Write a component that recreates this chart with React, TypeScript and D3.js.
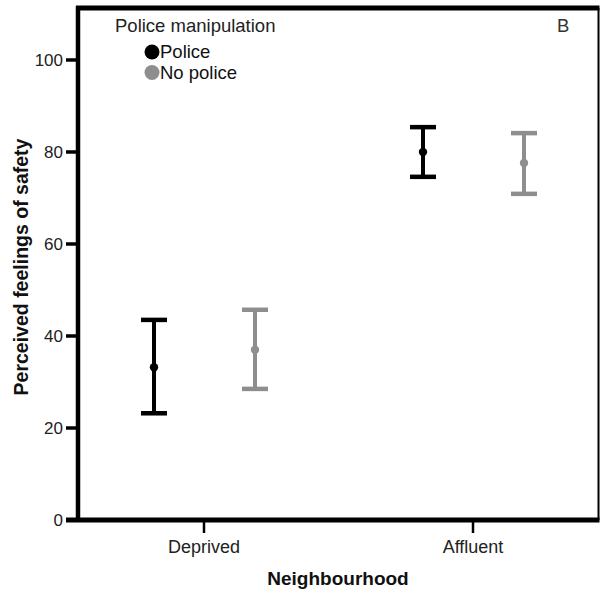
import React from 'react';
import * as d3 from 'd3';

type Point = { hood: string, group: string, mean: number, lo: number, hi: number };

const categories = ["Deprived", "Affluent"];
const groups = ["Police", "No police"];
const means = [[33.2, 37.0], [80.0, 77.6]];
const lows = [[23.2, 28.5], [74.6, 70.9]];
const highs = [[43.5, 45.7], [85.4, 84.1]];
const yTickValues = [0, 20, 40, 60, 80, 100];

const colors = ["#000000", "#8e8e8e"];

const width = 601;
const height = 599;
const marginLeft = 78;
const marginTop = 8;
const marginRight = 2.5;
const marginBottom = 79;
const boundedWidth = width - marginLeft - marginRight;
const boundedHeight = height - marginTop - marginBottom;
const font = "'Liberation Sans', Arial, sans-serif";

const data: Point[] = categories.flatMap((hood, i) => groups.map((group, j) => ({
  hood, group, mean: means[i][j], lo: lows[i][j], hi: highs[i][j],
})));

const App: React.FC = () => {
  const yScale = d3.scaleLinear().domain([0, 111.3]).range([boundedHeight, 0]);
  const xScale = d3.scalePoint().domain(categories).range([126, 395]);
  const xSub = d3.scalePoint().domain(groups).range([-50, 51]);

  return (
    <svg width={width} height={height} style={{ position: "absolute", left: 0, top: 0, background: "white" }}>
      <g transform={`translate(${marginLeft}, ${marginTop})`} fontFamily={font}>
        {/* frame */}
        <line x1={-2} x2={boundedWidth + 1} y1={0} y2={0} stroke="black" strokeWidth={5} />
        <line x1={boundedWidth} x2={boundedWidth} y1={0} y2={boundedHeight} stroke="black" strokeWidth={2} />
        <line x1={0} x2={0} y1={-2} y2={boundedHeight + 2} stroke="black" strokeWidth={4.5} />
        <line x1={-12} x2={boundedWidth + 1} y1={boundedHeight} y2={boundedHeight} stroke="black" strokeWidth={5} />

        {yTickValues.map(v => (
          <g key={v} transform={`translate(0, ${yScale(v)})`}>
            <line x1={-12} x2={0} stroke="black" strokeWidth={3.5} />
            <text x={-15} dy="0.35em" textAnchor="end" fontSize={17} fill="#222">{v}</text>
          </g>
        ))}
        {categories.map(c => (
          <g key={c} transform={`translate(${xScale(c)}, ${boundedHeight})`}>
            <line y1={0} y2={13} stroke="black" strokeWidth={2.5} />
            <text y={33} textAnchor="middle" fontSize={18} fill="#222">{c}</text>
          </g>
        ))}

        <text transform={`translate(${-50}, ${267 - marginTop})rotate(-90)`} textAnchor="middle" fontSize={19.5} fontWeight="bold" fill="#111">Perceived feelings of safety</text>
        <text x={338 - marginLeft} y={585 - marginTop} textAnchor="middle" fontSize={19} fontWeight="bold" fill="#111">Neighbourhood</text>

        {data.map((d, i) => {
          const x = (xScale(d.hood) as number) + (xSub(d.group) as number);
          const color = colors[groups.indexOf(d.group)];
          return (
            <g key={i}>
              <line x1={x} x2={x} y1={yScale(d.hi)} y2={yScale(d.lo)} stroke={color} strokeWidth={4} />
              <line x1={x - 13} x2={x + 13} y1={yScale(d.hi)} y2={yScale(d.hi)} stroke={color} strokeWidth={4.5} />
              <line x1={x - 13} x2={x + 13} y1={yScale(d.lo)} y2={yScale(d.lo)} stroke={color} strokeWidth={4.5} />
              <circle cx={x} cy={yScale(d.mean)} r={4.2} fill={color} />
            </g>
          );
        })}

        {/* legend */}
        <text x={115 - marginLeft} y={32 - marginTop} fontSize={18.5} fill="#222">Police manipulation</text>
        {groups.map((g, i) => (
          <g key={g} transform={`translate(${152 - marginLeft}, ${52 - marginTop + i * 20.5})`}>
            <circle r={7.5} fill={colors[i]} />
            <text x={8} y={6} fontSize={18.5} fill="#111">{g}</text>
          </g>
        ))}
        <text x={557 - marginLeft} y={32 - marginTop} fontSize={18.5} fill="#333">B</text>
      </g>
    </svg>
  );
};

export default App;
